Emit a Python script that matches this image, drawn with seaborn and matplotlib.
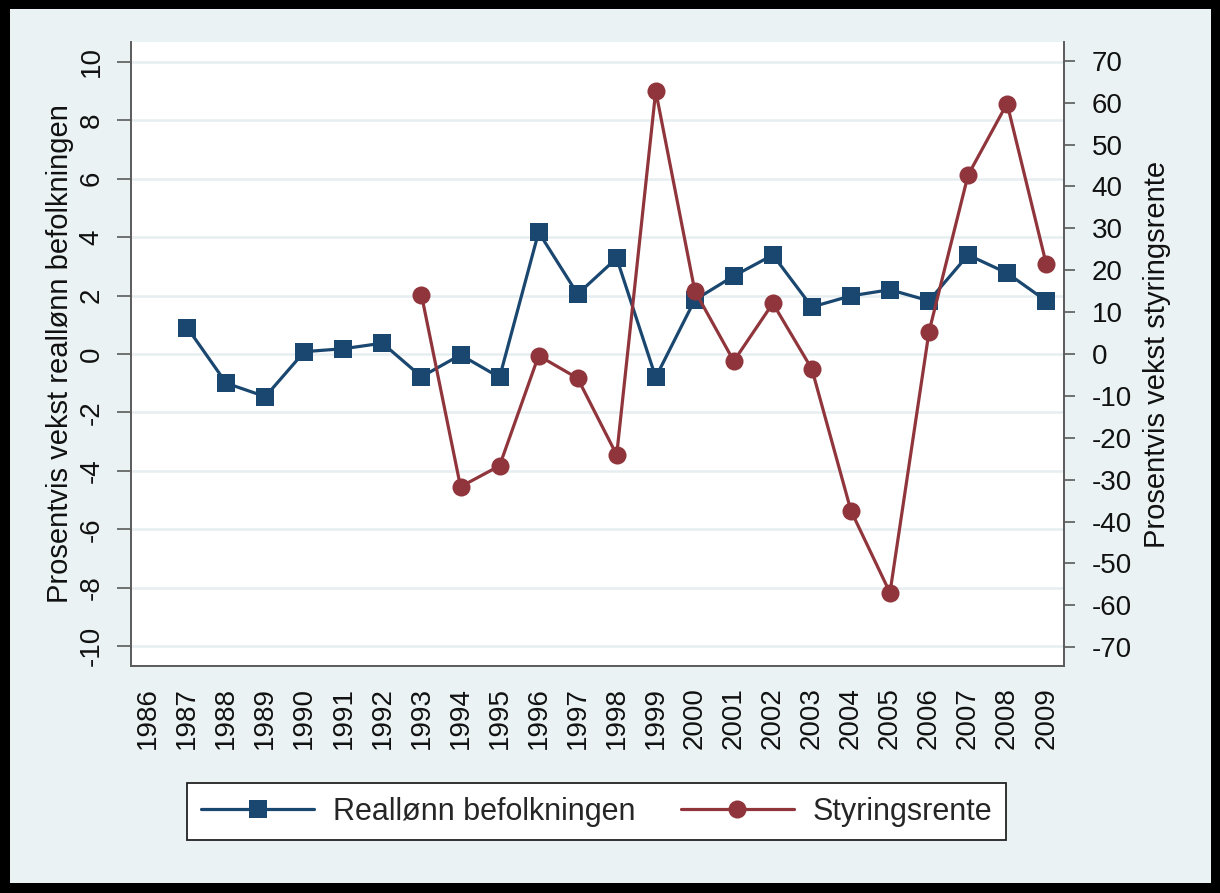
import numpy as np
import pandas as pd
import seaborn as sns
import matplotlib.pyplot as plt
from matplotlib.patches import Rectangle

# data
years = list(range(1986, 2010))
real_years = list(range(1987, 2010))
real_wage = [0.9, -1.0, -1.46, 0.08, 0.18, 0.37, -0.78, -0.03, -0.8, 4.17, 2.05,
             3.28, -0.8, 1.85, 2.67, 3.39, 1.61, 1.99, 2.2, 1.82, 3.39, 2.77, 1.82]
rate_years = list(range(1993, 2010))
policy_rate = [14.1, -31.7, -26.7, -0.4, -5.8, -24.1, 62.8, 15.1, -1.7, 12.1,
               -3.6, -37.4, -57.0, 5.3, 42.7, 59.8, 21.6]
left_ticks = list(range(-10, 11, 2))
right_ticks = list(range(-70, 71, 10))

blue = "#1a476f"
red = "#90353b"
bg = "#eaf2f3"
axis_col = "#5a5a5a"

sns.set_style("white")
plt.rcParams['font.family'] = ['Liberation Sans', 'DejaVu Sans']

fig = plt.figure(figsize=(12.2, 8.93), dpi=100, facecolor='black')
fig.add_artist(Rectangle((10 / 1220, 1 - 883 / 893), 1201 / 1220, 874 / 893,
                         transform=fig.transFigure, facecolor=bg,
                         edgecolor='none', zorder=0))

ax = fig.add_axes([0.1074, 0.2542, 0.7648, 0.6988])
ax.set_facecolor('white')

sns.lineplot(x=real_years, y=real_wage, ax=ax, color=blue, marker='s',
             markersize=13, markeredgewidth=0, linewidth=2.3,
             label='Reallønn befolkningen')
ax2 = ax.twinx()
sns.lineplot(x=rate_years, y=policy_rate, ax=ax2, color=red, marker='o',
             markersize=13, markeredgewidth=0, linewidth=2.3,
             label='Styringsrente')

# left axis
ax.set_xlim(1985.56, 2009.46)
ax.set_ylim(-10.68, 10.68)
ax.set_yticks(left_ticks)
ax.set_yticklabels([str(t) for t in left_ticks], rotation=90, va='center')
ax.set_xticks(years)
ax.set_xticklabels([str(y) for y in years], rotation=90)
ax.grid(axis='y', color='#e6eef1', linewidth=1.8)
ax.set_axisbelow(True)
ax.tick_params(axis='y', length=10, width=1.2, color=axis_col, pad=9,
               labelsize=20, labelcolor='#111')
ax.tick_params(axis='x', length=12, width=1.2, color=axis_col, pad=3,
               labelsize=20, labelcolor='#111')
ax.set_xlabel('')
ax.set_ylabel('Prosentvis vekst reallønn befolkningen', fontsize=21,
              color='#111')
ax.yaxis.set_label_coords(-0.061, 0.5)

# right axis
ax2.set_ylim(-74.5, 74.5)
ax2.set_yticks(right_ticks)
ax2.set_yticklabels([str(t) for t in right_ticks])
ax2.tick_params(axis='y', length=8, width=1.2, color=axis_col, pad=12,
                labelsize=20, labelcolor='#111')
ax2.set_ylabel('Prosentvis vekst styringsrente', fontsize=21, color='#111')
ax2.yaxis.set_label_coords(1.0847, 0.5)

for a in (ax, ax2):
    a.spines['top'].set_visible(False)
    for s in ('left', 'right', 'bottom'):
        a.spines[s].set_color(axis_col)
        a.spines[s].set_linewidth(1.2)

h1, l1 = ax.get_legend_handles_labels()
h2, l2 = ax2.get_legend_handles_labels()
ax.get_legend().remove()
ax2.get_legend().remove()
leg = fig.legend(h1 + h2, l1 + l2, loc='center', bbox_to_anchor=(0.489, 0.091),
                 ncol=2, fontsize=22, frameon=True, fancybox=False,
                 edgecolor='#222', facecolor='white', framealpha=1,
                 handlelength=3.7, handletextpad=0.6, columnspacing=1.5,
                 borderpad=0.45)
leg.get_frame().set_linewidth(1.3)

fig.savefig('out.png', dpi=100, facecolor=fig.get_facecolor())
